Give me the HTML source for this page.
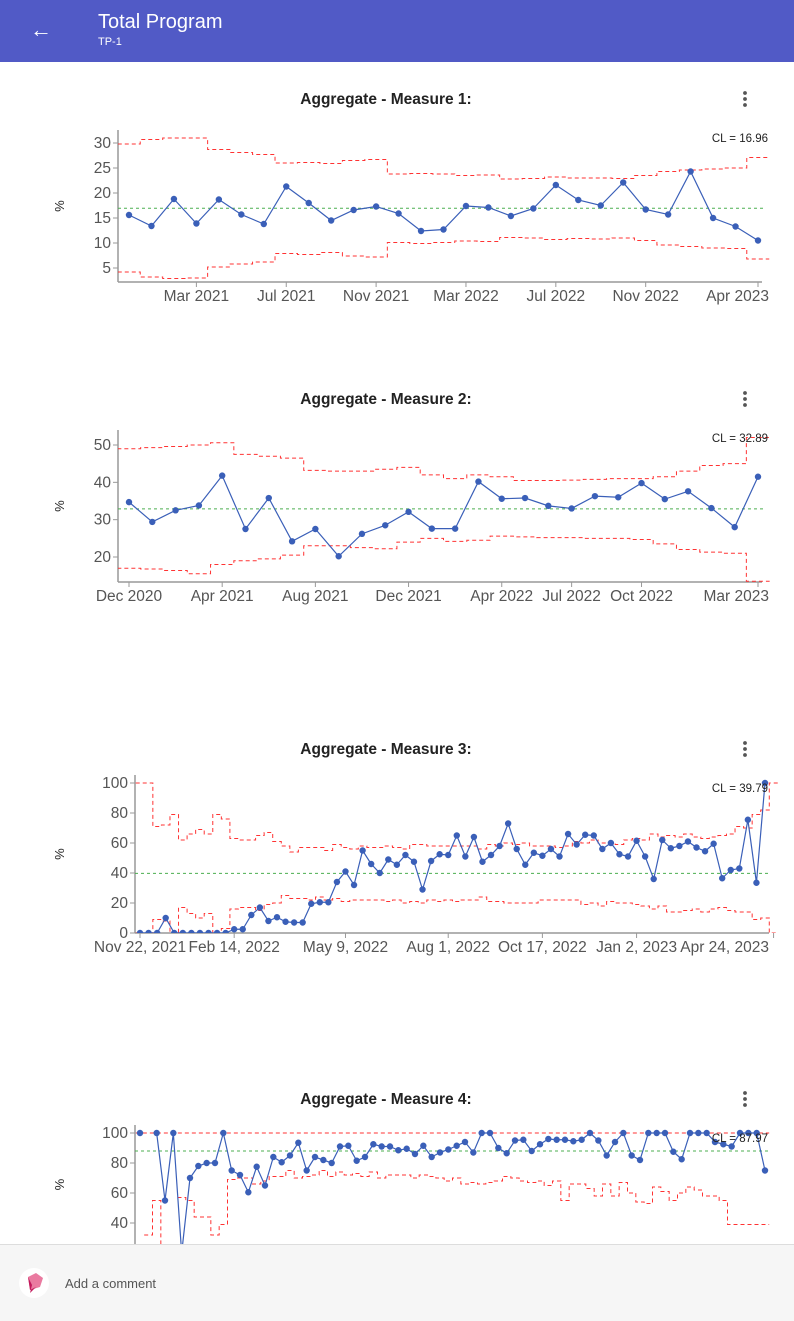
<!DOCTYPE html>
<html><head><meta charset="utf-8"><style>
body{margin:0;width:794px;height:1320px;overflow:hidden;background:#fff;font-family:"Liberation Sans",sans-serif;position:relative}
.hdr{position:absolute;left:0;top:0;width:794px;height:62px;background:#515ac6}
.title{position:absolute;left:98px;top:11px;color:#fff;font-size:20px}
.sub{position:absolute;left:98px;top:36px;color:#fff;font-size:11px}
.back{position:absolute;left:30px;top:17px;color:#fff;font-size:22px}
.foot{position:absolute;left:0;top:1244px;width:794px;height:76px;background:#f6f6f6;border-top:1px solid #ddd}
.foot span{position:absolute;left:65px;top:31px;font-size:13px;color:#555}
svg{position:absolute;left:0;top:62px}
</style></head><body>
<div class="hdr">
<div class="back">&#8592;</div>
<div class="title">Total Program</div>
<div class="sub">TP-1</div>
</div>
<svg id="chart" width="794" height="1182" viewBox="0 62 794 1182"></svg>
<div class="foot">
<svg width="36" height="36" style="left:16px;top:20px"><circle cx="18" cy="18" r="15" fill="#fff"/><polygon points="12,12 20,8 27,13 24,22 14,25" fill="#ea7aa0"/><polygon points="12,12 16,20 14,28 20,22 14,25" fill="#c2185b"/></svg>
<span>Add a comment</span>
</div>
<script>
// Measure 1
const m1Values=[15.6,13.4,18.8,13.9,18.7,15.7,13.8,21.3,18.0,14.5,16.6,17.3,15.9,12.4,12.7,17.4,17.1,15.4,16.9,21.6,18.6,17.5,22.1,16.7,15.7,24.3,15.0,13.3,10.5];
const m1Ucl=[29.8,30.7,31,31,28.7,28.1,27.7,26.0,26.1,25.9,26.5,26.7,23.8,23.9,23.8,23.5,23.6,22.8,22.9,23.2,23.0,23.0,22.9,23.5,24.3,24.6,24.8,25.0,27.1];
const m1Lcl=[4.2,3.2,2.9,3.0,5.2,5.8,6.2,7.9,7.7,8.1,7.4,7.2,10.1,9.9,10.1,10.4,10.3,11.1,11.0,10.7,10.9,10.8,11.0,10.5,9.6,9.3,9.0,8.9,6.8];
const m1Cl=16.96;
const m1YTicks=[5,10,15,20,25,30];
const m1XLabels=["Mar 2021","Jul 2021","Nov 2021","Mar 2022","Jul 2022","Nov 2022","Apr 2023"];
const m1XIdx=[3,7,11,15,19,23,28];
// Measure 2
const m2Values=[34.7,29.4,32.5,33.8,41.8,27.5,35.8,24.2,27.5,20.2,26.2,28.5,32.1,27.6,27.6,40.2,35.6,35.8,33.7,33.0,36.3,36.0,39.8,35.5,37.6,33.1,28.0,41.5];
const m2Ucl=[49.0,49.3,49.6,50.0,50.6,47.5,47.0,46.5,43.2,43.0,43.0,43.5,44.0,42.0,41.0,42.0,41.5,40.5,40.5,40.6,40.8,41.0,41.0,41.5,43.0,44.5,45.0,52];
const m2Lcl=[17.0,16.8,16.4,15.5,18.0,19.0,19.5,20.5,23.0,23.0,22.5,22.2,24.0,25.0,24.2,24.5,25.6,25.4,25.2,25.2,25.0,25.0,24.7,23.5,22.0,21.3,21.0,13.5];
const m2Cl=32.89;
const m2YTicks=[20,30,40,50];
const m2XLabels=["Dec 2020","Apr 2021","Aug 2021","Dec 2021","Apr 2022","Jul 2022","Oct 2022","Mar 2023"];
const m2XIdx=[0,4,8,12,16,19,22,27];
// Measure 3
const m3Values=[0,0,0,10,0,0,0,0,0,0,0,2.5,2.5,12,17,8,10.5,7.5,7,7,19.5,20.5,20.5,34,41,32,55,46,40,49,45.5,52,47.5,29,48,52.5,52,65,51,64,47.5,52,58,73,56,45.5,53.5,51.5,56,51,66,59,65.5,65,56,60,52.5,51,61.5,51,36,62,56.5,58,61,57,54.5,59.5,36.5,42,43,75.5,33.5,100];
const m3Ucl=[100,100,71,72,79,62,66,69,66,79,76,63,62,62,65,67,61,58,54,57,57,57,55,59,57,56,58,57,57,58,57,56,59,59,58,58,58,58,58,58,56,59,58,60,59,60,58,58,58,57,58,61,60,62,60,60,59,62,63,62,66,64,65,64,66,64,63,64,65,66,71,70,79,82,100];
const m3Lcl=[0,0,9,8,0,17,13,10,13,0,3,16,17,17,15,19,20,25,23,23,22,24,22,23,21,22,22,22,22,21,22,20,21,20,22,21,22,21,22,22,24,21,21,20,20,20,20,22,22,22,22,22,19,20,18,21,20,20,19,18,16,18,14,14,15,16,14,16,17,15,14,14,9,10,0];
const m3Cl=39.79;
const m3YTicks=[0,20,40,60,80,100];
const m3XLabels=["Nov 22, 2021","Feb 14, 2022","May 9, 2022","Aug 1, 2022","Oct 17, 2022","Jan 2, 2023","Apr 24, 2023"];
const m3XIdx=[0,11,24,36,47,58,74];
// Measure 4
const m4Values=[100,null,100,55,100,20,70,78,80,80,100,75,72,60.5,77.5,65,84,80.5,85,93.5,75,84,82,80,91,91.5,81.5,84,92.5,91,91,88.5,89.5,86,91.5,84,87,89,91.5,94,87,100,100,90,86.5,95,95.5,88,92.5,96,95.5,95.5,94.5,95.5,100,95,85,94,100,85,82,100,100,100,87.5,82.5,100,100,100,94,92.5,91,100,100,100,75];
const m4Ucl=[100,100,100,100,100,100,100,100,100,100,100,100,100,100,100,100,100,100,100,100,100,100,100,100,100,100,100,100,100,100,100,100,100,100,100,100,100,100,100,100,100,100,100,100,100,100,100,100,100,100,100,100,100,100,100,100,100,100,100,100,100,100,100,100,100,100,100,100,100,100,100,100,100,100,100,100];
const m4Lcl=[null,32,55,0,null,57,55,44,44,32,39,69,70,70,66,68,71,71,75,70,71,72,75,71,74,72,73,71,74,70,72,72,72,70,72,71,70,68,70,66,67,66,67,68,71,70,68,67,68,65,68,55,66,66,63,58,66,58,67,60,54,53,64,61,55,60,64,62,58,58,55,39,39,39,39,39];
const m4Cl=87.97;
const m4YTicks=[40,60,80,100];

const NS="http://www.w3.org/2000/svg";
const root=document.getElementById('chart');
function mk(tag,attrs,parent,txt){const e=document.createElementNS(NS,tag);for(const k in attrs)e.setAttribute(k,attrs[k]);if(txt!=null)e.textContent=txt;(parent||root).appendChild(e);return e;}

function draw(c){
  const g=mk('g',{});
  
  
  const n=c.values.length;
  const xs=i=>c.x0+(c.x1-c.x0)*i/(n-1);
  const ys=v=>c.yTop+(c.vTop-v)*(c.yBot-c.yTop)/(c.vTop-c.vBot);
  const clipId='clip'+c.name;
  const cp=mk('clipPath',{id:clipId},g);mk('rect',{x:c.ax,y:c.plotTop-6,width:800,height:c.axisY-c.plotTop+6},cp);
  const t=mk('text',{x:386,y:c.titleY,'text-anchor':'middle','font-size':15.5,'font-weight':'bold',fill:'#222'},g,c.title);
  
  
  const k=mk('g',{},g);
  
  
  [-6,0,6].forEach(d=>mk('circle',{cx:745,cy:c.titleY-5+d,r:1.9,fill:'#555'},k));
  const yl=mk('text',{x:0,y:0,transform:`translate(${c.pctX},${(c.plotTop+c.axisY)/2}) rotate(90)`,'font-size':13,fill:'#222','text-anchor':'middle'},g,'%');
  
  
  const ax=mk('g',{},g);
  
  
  mk('line',{x1:c.ax,x2:c.ax,y1:c.plotTop,y2:c.axisY,stroke:'#999','stroke-width':1.5},ax);
  c.yTicks.forEach(v=>{const y=ys(v);mk('line',{x1:c.ax-5,x2:c.ax,y1:y,y2:y,stroke:'#999'},ax);
    const tl=mk('text',{x:c.ax-7,y:y+5,'text-anchor':'end','font-size':15.5,fill:'#555'},ax,v);
    
    });
  if(c.xLabels){
    const xa=mk('g',{},g);
    
    
    mk('line',{x1:c.ax,x2:c.x1+4,y1:c.axisY,y2:c.axisY,stroke:'#999','stroke-width':1.5},xa);
    c.xLabels.forEach((l,j)=>{const x=xs(c.xIdx[j]);mk('line',{x1:x,x2:x,y1:c.axisY,y2:c.axisY+5,stroke:'#999'},xa);
      let anchor='middle';let tx=x;
      if(j==c.xLabels.length-1){anchor='end';tx=769;}
      const tl=mk('text',{x:tx,y:c.axisY+19,'text-anchor':anchor,'font-size':15.5,fill:'#555'},xa,l);
      
      });
  }
  const pg=mk('g',{'clip-path':`url(#${clipId})`},g);
  const d=(c.x1-c.x0)/(n-1)/2;
  [['ucl',c.ucl],['lcl',c.lcl]].forEach(([nm,arr])=>{
    let p='';let prev=null;
    arr.forEach((v,i)=>{if(v==null){prev=null;return;}const y=ys(v);const xa=xs(i)-d,xb=xs(i)+d;
      p+=(prev==null?`M${xa},${y}`:`L${xa},${y}`)+`L${xb},${y}`;prev=v;});
    const pl=mk('path',{d:p,fill:'none',stroke:'#f33','stroke-width':1,'stroke-dasharray':'4,3'},pg);
    
    
  });
  const cl=mk('line',{x1:c.ax,x2:c.x1+5,y1:ys(c.cl),y2:ys(c.cl),stroke:'#4caf50','stroke-width':1,'stroke-dasharray':'3,3'},pg);
  
  
  let p='';let started=false;
  c.values.forEach((v,i)=>{if(v==null){started=false;return;}p+=(started?'L':'M')+xs(i)+','+ys(v);started=true;});
  const sl=mk('path',{d:p,fill:'none',stroke:'#3a5fb8','stroke-width':1.2},pg);
  
  
  c.values.forEach((v,i)=>{if(v==null)return;
    const pt=mk('circle',{cx:xs(i),cy:ys(v),r:3.2,fill:'#3a5fb8'},pg);
    
    });
  const ct=mk('text',{x:768,y:c.clLabelY,'text-anchor':'end','font-size':11.5,fill:'#222'},g,'CL = '+c.cl);
  
  
}
draw({name:'measure-1-chart',title:'Aggregate - Measure 1:',titleY:104,values:m1Values,ucl:m1Ucl,lcl:m1Lcl,cl:m1Cl,yTicks:m1YTicks,xLabels:m1XLabels,xIdx:m1XIdx,
  ax:118,x0:129,x1:758,plotTop:130,axisY:282,yTop:143,vTop:30,yBot:268,vBot:5,pctX:55,clLabelY:142});
draw({name:'measure-2-chart',title:'Aggregate - Measure 2:',titleY:404,values:m2Values,ucl:m2Ucl,lcl:m2Lcl,cl:m2Cl,yTicks:m2YTicks,xLabels:m2XLabels,xIdx:m2XIdx,
  ax:118,x0:129,x1:758,plotTop:430,axisY:582,yTop:445,vTop:50,yBot:557,vBot:20,pctX:55,clLabelY:442});
draw({name:'measure-3-chart',title:'Aggregate - Measure 3:',titleY:754,values:m3Values,ucl:m3Ucl,lcl:m3Lcl,cl:m3Cl,yTicks:m3YTicks,xLabels:m3XLabels,xIdx:m3XIdx,
  ax:135,x0:140,x1:765,plotTop:775,axisY:933,yTop:783,vTop:100,yBot:933,vBot:0,pctX:55,clLabelY:792});
draw({name:'measure-4-chart',title:'Aggregate - Measure 4:',titleY:1104,values:m4Values,ucl:m4Ucl,lcl:m4Lcl,cl:m4Cl,yTicks:m4YTicks,
  ax:135,x0:140,x1:765,plotTop:1125,axisY:1244,yTop:1133,vTop:100,yBot:1223,vBot:40,pctX:55,clLabelY:1142});
</script>
</body></html>
